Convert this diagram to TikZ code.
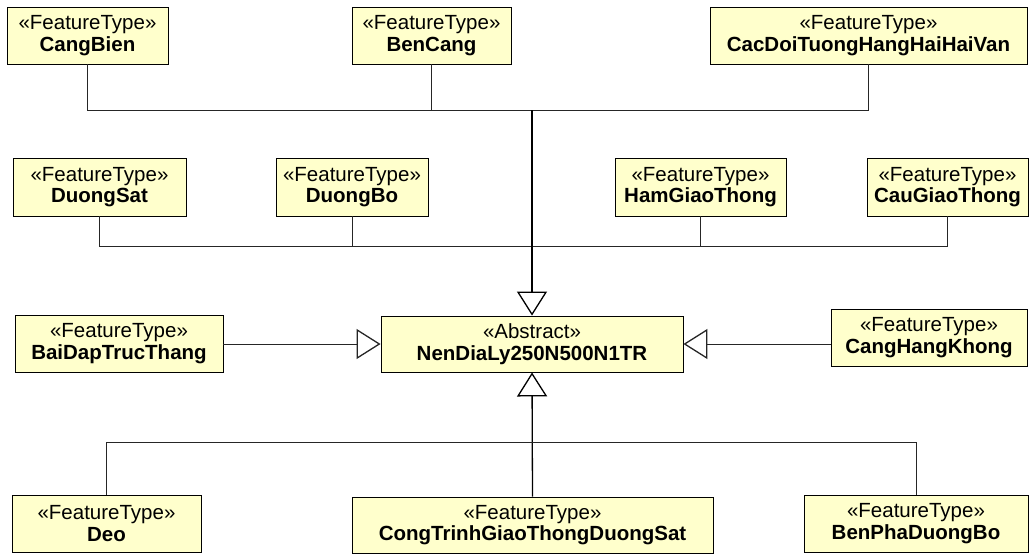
\documentclass[tikz,border=0pt]{standalone}
\usepackage{fontspec}
\setmainfont{Liberation Sans}
\usetikzlibrary{arrows.meta,shadows}
\definecolor{boxfill}{HTML}{FFFFCC}
\tikzset{
  cls/.style={draw=black, line width=0.9pt, fill=boxfill, inner sep=0pt, align=center,
    font=\fontsize{20.5}{21.5}\selectfont,
    drop shadow={shadow xshift=1.3pt, shadow yshift=-1.3pt, fill=black, opacity=1}},
  conn/.style={draw=black!85, line width=0.9pt},
  trunk/.style={draw=black, line width=1.3pt},
  gen/.style={-{Triangle[open, length=24pt, width=30pt, line width=1.3pt, fill=white]}}
}
\newcommand{\cl}[2]{#1\\\textbf{#2}}
\begin{document}
\begin{tikzpicture}[x=1pt,y=-1pt]
\useasboundingbox (0,0) rectangle (1029,554);
% row 1
\node[cls, minimum width=161pt, minimum height=57pt] (cb) at (87.5,35.5) {\cl{«FeatureType»}{CangBien}};
\node[cls, minimum width=159pt, minimum height=57pt] (bc) at (431.5,35.5) {\cl{«FeatureType»}{BenCang}};
\node[cls, minimum width=317pt, minimum height=57pt] (cd) at (868.5,35.5) {\cl{«FeatureType»}{CacDoiTuongHangHaiHaiVan}};
% row 2
\node[cls, minimum width=173pt, minimum height=58pt] (ds) at (99.5,187) {\cl{«FeatureType»}{DuongSat}};
\node[cls, minimum width=152pt, minimum height=58pt] (db) at (352,187) {\cl{«FeatureType»}{DuongBo}};
\node[cls, minimum width=171pt, minimum height=58pt] (hg) at (700.5,187) {\cl{«FeatureType»}{HamGiaoThong}};
\node[cls, minimum width=161pt, minimum height=58pt] (cg) at (947.5,187) {\cl{«FeatureType»}{CauGiaoThong}};
% row 3
\node[cls, minimum width=208pt, minimum height=57pt] (bd) at (119,343.5) {\cl{«FeatureType»}{BaiDapTrucThang}};
\node[cls, minimum width=302pt, minimum height=56pt] (nd) at (532,344) {\cl{«Abstract»}{NenDiaLy250N500N1TR}};
\node[cls, minimum width=196pt, minimum height=57pt] (ch) at (929,337.5) {\cl{«FeatureType»}{CangHangKhong}};
% row 4
\node[cls, minimum width=189pt, minimum height=57pt] (de) at (106.5,523.5) {\cl{«FeatureType»}{Deo}};
\node[cls, minimum width=361pt, minimum height=56pt] (ct) at (532.5,525) {\cl{«FeatureType»}{CongTrinhGiaoThongDuongSat}};
\node[cls, minimum width=224pt, minimum height=57pt] (bp) at (916,523.5) {\cl{«FeatureType»}{BenPhaDuongBo}};
% junction coordinates
\coordinate (j1) at (0,110);
\coordinate (j2) at (0,246);
\coordinate (j4) at (0,442);
% top group
\draw[conn] (cb.south) -- (cb.south |- j1) -| (cd.south);
\draw[conn] (bc.south) -- (bc.south |- j1);
% second group
\draw[conn] (ds.south) -- (ds.south |- j2) -| (cg.south);
\draw[conn] (db.south) -- (db.south |- j2);
\draw[conn] (hg.south) -- (hg.south |- j2);
% trunk into abstract
\draw[trunk, gen] (nd.north |- j1) -- (nd.north);
% side generalizations
\draw[conn, gen] (bd.east |- nd.west) -- (nd.west);
\draw[conn, gen] (ch.west |- nd.east) -- (nd.east);
% bottom group
\draw[trunk, gen] (ct.north) -- (nd.south);
\draw[conn] (de.north) -- (de.north |- j4) -| (bp.north);
\end{tikzpicture}
\end{document}
